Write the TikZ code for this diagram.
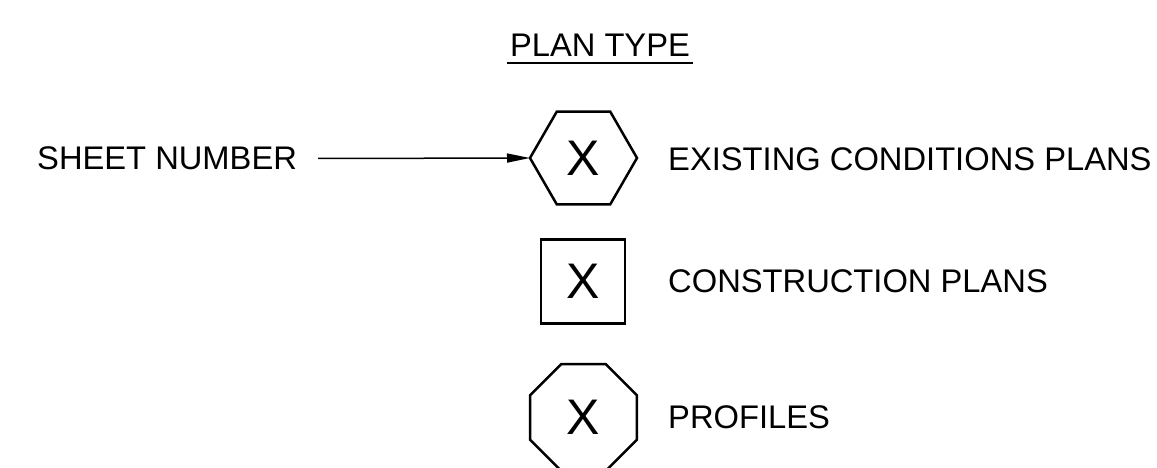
\documentclass[tikz,border=0pt]{standalone}
\usepackage{fontspec}
\setmainfont{Liberation Sans}
\usetikzlibrary{shapes.geometric,arrows.meta}
\tikzset{
  legendtext/.style={anchor=west,inner sep=0pt,font=\fontsize{32.7}{39}\selectfont},
  symbolbox/.style={draw,line width=2.5pt,inner sep=0pt,outer sep=0pt,font=\fontsize{50}{60}\selectfont},
}
\begin{document}
\begin{tikzpicture}[x=1pt,y=-1pt]
                \useasboundingbox (0,0) rectangle (1157,468);
                % titulo
                \node [legendtext,anchor=center,inner xsep=3pt] (title) at (600,45.5) {PLAN TYPE};
                \draw[line width=2.5pt] ([yshift=-6pt]title.south west) -- ([yshift=-6pt]title.south east);
                % simbolos
                \node [symbolbox,regular polygon,regular polygon sides=6,minimum size=107pt] (hex) at (583.5,158) {X};
                \node [symbolbox,rectangle,minimum size=84pt] (box) at (583,281.5) {X};
                \node [symbolbox,regular polygon,regular polygon sides=8,minimum size=115.8pt] (oct) at (583.5,417.5) {X};
                % textos
                \node [legendtext] (sheet) at (37,158.5) {SHEET NUMBER};
                \node [legendtext] (existing) at (668,159) {EXISTING CONDITIONS PLANS};
                \node [legendtext] (construction) at (668,281) {CONSTRUCTION PLANS};
                \node [legendtext] (profiles) at (668,417) {PROFILES};
                % flecha
                \draw[line width=1.5pt,-{Triangle[length=23pt,width=9pt]}] ([xshift=21pt]sheet.east) -- (hex.west);
                \end{tikzpicture}
\end{document}
